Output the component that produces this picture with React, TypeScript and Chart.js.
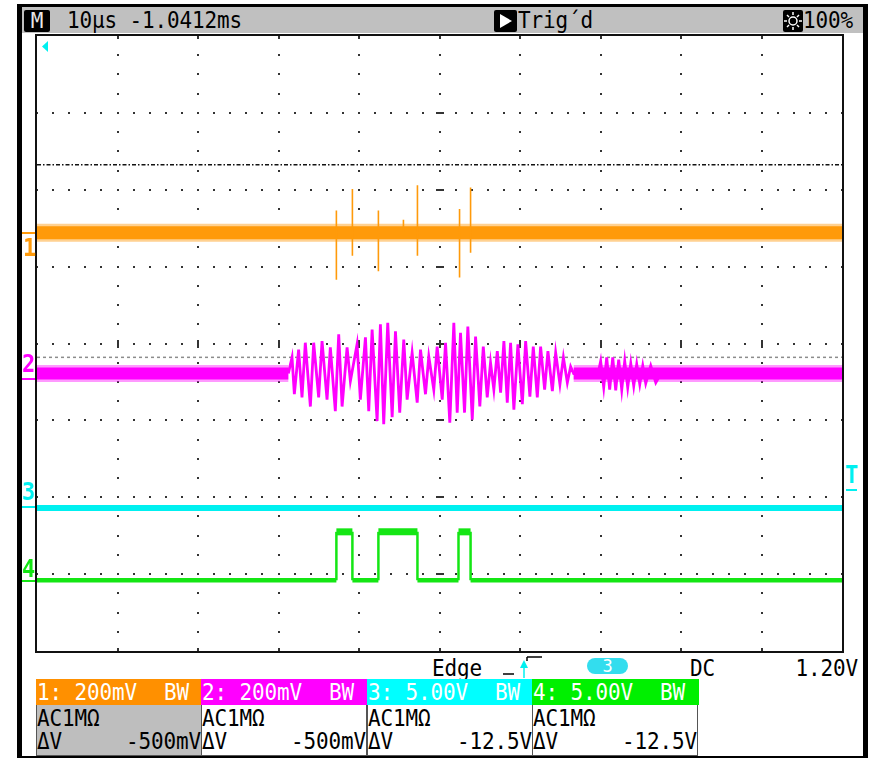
import React, { useEffect, useRef } from "react";
import { Chart, registerables } from "chart.js";

Chart.register(...registerables);

// Horizontal axis: time in µs across 10 divisions (10 µs/div)
// Vertical axis: screen divisions, -4 .. +4
const timeMin = 0;
const timeMax = 100;
const divMin = -4;
const divMax = 4;
const majorTimeTicks = [10, 20, 30, 40, 50, 60, 70, 80, 90];
const majorDivTicks = [-3, -2, -1, 0, 1, 2, 3];
const minorTimeStep = 2;
const minorDivStep = 0.25;

// Channel 1 (orange) : noise band level and glitch spikes
const ch1Level = 1.44;
const ch1SpikeTimes = [37.19, 39.18, 42.41, 45.52, 47.26, 52.49, 53.86];
const ch1SpikeHighs = [1.73, 2.01, 1.73, 1.61, 2.06, 1.75, 2.03];
const ch1SpikeLows = [0.83, 1.14, 0.94, 1.44, 1.14, 0.86, 1.18];

// Channel 2 (magenta) : baseline band and ringing burst
const ch2Level = -0.39;
const ch2BurstStart = 31.22;
const ch2BurstEnd = 66.67;
const ch2BurstTimes = [
  31.22, 31.68, 31.97, 32.5, 32.92, 33.33, 33.96, 34.37, 34.99, 35.41, 36.03, 36.44,
  37.06, 37.48, 37.9, 38.52, 38.93, 39.76, 40.17, 40.8, 41.21, 41.63, 42.25, 42.66,
  43.07, 43.57, 44.12, 44.53, 45.06, 45.56, 45.98, 46.6, 47.23, 47.64, 48.26, 48.67,
  49.29, 49.71, 50.34, 50.75, 51.28, 51.78, 52.2, 52.61, 53.11, 53.52, 54.07, 54.48,
  55.01, 55.44, 55.93, 56.34, 56.75, 57.18, 57.59, 58.0, 58.42, 58.83, 59.24, 59.74,
  60.29, 60.7, 61.23, 61.65, 62.15, 62.56, 63.06, 63.47, 64.02, 64.43, 64.96, 65.39,
  65.88, 66.29, 66.67, 69.7, 70.02, 70.4, 70.77, 71.14, 71.52, 71.89, 72.26, 72.64,
  73.01, 73.38, 73.76, 74.13, 74.5, 74.88, 75.25, 75.62, 76.24, 76.87, 77.5,
];
const ch2BurstValues = [
  -0.39, -0.18, -0.66, -0.08, -0.7, 0.01, -0.82, 0.01, -0.7, 0.03, -0.73, -0.05,
  -0.88, 0.12, -0.82, -0.05, -0.49, -0.01, -0.73, 0.08, -0.88, 0.18, -1.01, 0.25,
  -1.05, 0.27, -0.96, 0.16, -0.9, 0.05, -0.73, -0.12, -0.77, -0.08, -0.66, -0.17,
  -0.6, -0.04, -0.73, 0.01, -1.03, 0.27, -0.9, 0.14, -0.9, 0.22, -0.99, 0.09,
  -0.82, -0.04, -0.7, -0.25, -0.6, -0.1, -0.64, 0.03, -0.77, 0.01, -0.86, -0.01,
  -0.79, 0.03, -0.69, -0.04, -0.7, -0.04, -0.6, -0.1, -0.62, -0.12, -0.53, -0.18,
  -0.51, -0.3, -0.39, -0.39, -0.23, -0.57, -0.18, -0.6, -0.18, -0.61, -0.21, -0.6,
  -0.23, -0.57, -0.26, -0.55, -0.27, -0.53, -0.29, -0.52, -0.29, -0.51, -0.39,
];

// Channel 3 (cyan) : flat level
const ch3Level = -2.14;

// Channel 4 (green) : logic pulses
const ch4Low = -3.08;
const ch4High = -2.45;
const ch4RiseTimes = [37.19, 42.41, 52.36];
const ch4FallTimes = [39.18, 47.26, 53.86];

// Reference lines
const dashDotLevel = 2.325;
const triggerLevel = -0.18;

const ORANGE = "#ff9a0a";
const ORANGE_HAZE = "rgba(255,154,10,0.45)";
const MAGENTA = "#ff00ff";
const MAGENTA_HAZE = "rgba(255,0,255,0.4)";
const CYAN = "#00f0f0";
const GREEN = "#14e614";

const FONT = "'DejaVu Sans Mono', 'Liberation Mono', monospace";

function buildSpikes() {
  const pts: { x: number; y: number }[] = [{ x: timeMin, y: ch1Level }];
  ch1SpikeTimes.forEach((t, i) => {
    pts.push({ x: t, y: ch1Level });
    pts.push({ x: t, y: ch1SpikeHighs[i] });
    pts.push({ x: t, y: ch1SpikeLows[i] });
    pts.push({ x: t, y: ch1Level });
  });
  pts.push({ x: timeMax, y: ch1Level });
  return pts;
}

function buildPulses() {
  const pts: { x: number; y: number }[] = [{ x: timeMin, y: ch4Low }];
  ch4RiseTimes.forEach((r, i) => {
    pts.push({ x: r, y: ch4Low });
    pts.push({ x: r, y: ch4High });
    pts.push({ x: ch4FallTimes[i], y: ch4High });
    pts.push({ x: ch4FallTimes[i], y: ch4Low });
  });
  pts.push({ x: timeMax, y: ch4Low });
  return pts;
}

function ch2BandData() {
  return [
    { x: timeMin, y: ch2Level },
    { x: ch2BurstStart, y: ch2Level },
    { x: (ch2BurstStart + ch2BurstEnd) / 2, y: null },
    { x: ch2BurstEnd, y: ch2Level },
    { x: timeMax, y: ch2Level },
  ];
}

const graticule = {
  id: "graticule",
  beforeDatasetsDraw(chart: any) {
    const { ctx, scales } = chart;
    const xs = scales.x;
    const ys = scales.y;
    ctx.save();
    ctx.fillStyle = "#333";
    const dot = (px: number, py: number, w = 2, h = 2) =>
      ctx.fillRect(Math.round(px - w / 2), Math.round(py - h / 2), w, h);
    majorDivTicks.forEach((v) => {
      for (let t = timeMin; t <= timeMax + 1e-6; t += minorTimeStep) {
        dot(xs.getPixelForValue(t), ys.getPixelForValue(v));
      }
    });
    majorTimeTicks.forEach((t) => {
      for (let v = divMin; v <= divMax + 1e-6; v += minorDivStep) {
        dot(xs.getPixelForValue(t), ys.getPixelForValue(v));
      }
    });
    const cx = xs.getPixelForValue((timeMin + timeMax) / 2);
    const cy = ys.getPixelForValue(0);
    majorTimeTicks.forEach((t) => dot(xs.getPixelForValue(t), cy, 2, 8));
    majorDivTicks.forEach((v) => dot(cx, ys.getPixelForValue(v), 8, 2));
    majorTimeTicks.forEach((t) => {
      const px = xs.getPixelForValue(t);
      dot(px, ys.getPixelForValue(divMax) + 1.5, 2, 3);
      dot(px, ys.getPixelForValue(divMin) - 1.5, 2, 3);
    });
    ctx.restore();
  },
};

const txt = (extra: React.CSSProperties): React.CSSProperties => ({
  position: "absolute",
  fontFamily: FONT,
  fontSize: 21,
  lineHeight: "21px",
  letterSpacing: "-0.15px",
  whiteSpace: "pre",
  color: "#000",
  transform: "scaleY(1.1)",
  transformOrigin: "50% 50%",
  ...extra,
});

function ChannelBox(props: {
  left: number;
  color: string;
  title: string;
  delta: string;
  body: string;
}) {
  const { left, color, title, delta, body } = props;
  const w = 166;
  return (
    <div
      style={{
        position: "absolute",
        left,
        top: 679,
        width: w,
        height: 77,
        boxSizing: "border-box",
        background: body,
        border: "1px solid #555",
        borderTop: "none",
      }}
    >
      <div style={{ position: "absolute", left: -1, top: 0, width: w + 1, height: 26, background: color }} />
      <div style={txt({ left: 0, top: 2.5, color: "#fff" })}>{title}</div>
      <div style={txt({ right: 12, top: 2.5, color: "#fff" })}>BW</div>
      <div style={txt({ left: 0, top: 28.5 })}>AC1MΩ</div>
      <div style={txt({ left: 0, top: 51.5 })}>ΔV</div>
      <div style={txt({ right: 0, top: 51.5 })}>{delta}</div>
    </div>
  );
}

export default function App() {
  const ref = useRef<HTMLCanvasElement>(null);

  useEffect(() => {
    if (!ref.current) return;
    const burst = ch2BurstTimes.map((t, i) => ({ x: t, y: ch2BurstValues[i] }));
    const chart = new Chart(ref.current, {
      type: "line",
      data: {
        datasets: [
          {
            label: "dash-dot",
            data: [
              { x: timeMin, y: dashDotLevel },
              { x: timeMax, y: dashDotLevel },
            ],
            borderColor: "#111",
            borderWidth: 1.5,
            borderDash: [4, 2, 1.5, 2],
            order: 10,
          },
          {
            label: "trigger level",
            data: [
              { x: timeMin, y: triggerLevel },
              { x: timeMax, y: triggerLevel },
            ],
            borderColor: "#8c8c8c",
            borderWidth: 1.5,
            borderDash: [3, 3],
            order: 10,
          },
          {
            label: "CH1 haze",
            data: [
              { x: timeMin, y: ch1Level },
              { x: timeMax, y: ch1Level },
            ],
            borderColor: ORANGE_HAZE,
            borderWidth: 18,
            order: 6,
          },
          {
            label: "CH1 band",
            data: [
              { x: timeMin, y: ch1Level },
              { x: timeMax, y: ch1Level },
            ],
            borderColor: ORANGE,
            borderWidth: 13,
            order: 5,
          },
          {
            label: "CH1 spikes",
            data: buildSpikes(),
            borderColor: ORANGE,
            borderWidth: 1.6,
            order: 4,
          },
          {
            label: "CH2 haze",
            data: ch2BandData(),
            borderColor: MAGENTA_HAZE,
            borderWidth: 17,
            spanGaps: false,
            order: 6,
          },
          {
            label: "CH2 band",
            data: ch2BandData(),
            borderColor: MAGENTA,
            borderWidth: 12,
            spanGaps: false,
            order: 5,
          },
          {
            label: "CH2 burst",
            data: burst,
            borderColor: MAGENTA,
            borderWidth: 2.8,
            order: 4,
          },
          {
            label: "CH3",
            data: [
              { x: timeMin, y: ch3Level },
              { x: timeMax, y: ch3Level },
            ],
            borderColor: CYAN,
            borderWidth: 6,
            order: 5,
          },
          {
            label: "CH4",
            data: buildPulses(),
            borderColor: GREEN,
            borderWidth: 4,
            order: 5,
            segment: {
              borderWidth: (c: any) =>
                c.p0.parsed.x === c.p1.parsed.x ? 2.5 : c.p0.parsed.y > (ch4High + ch4Low) / 2 ? 7 : 4.5,
            },
          },
        ] as any,
      },
      options: {
        responsive: false,
        animation: false,
        layout: { padding: 0 },
        elements: {
          point: { radius: 0, hoverRadius: 0 },
          line: { tension: 0, fill: false, borderCapStyle: "butt", borderJoinStyle: "miter" },
        },
        plugins: {
          legend: { display: false },
          tooltip: { enabled: false },
        },
        events: [],
        scales: {
          x: { type: "linear", min: timeMin, max: timeMax, display: false },
          y: { type: "linear", min: divMin, max: divMax, display: false },
        },
      },
      plugins: [graticule],
    });
    return () => chart.destroy();
  }, []);

  return (
    <div style={{ position: "absolute", left: 0, top: 0, width: 877, height: 758, background: "#fff", overflow: "hidden" }}>
      {/* outer frame */}
      <div
        style={{
          position: "absolute",
          left: 17,
          top: 4,
          width: 851,
          height: 754,
          boxSizing: "border-box",
          borderLeft: "5px solid #000",
          borderRight: "5px solid #000",
          borderTop: "3px solid #000",
          borderBottom: "2px solid #000",
        }}
      />
      {/* header bar */}
      <div style={{ position: "absolute", left: 22, top: 7, width: 841, height: 26, background: "#c0c0c0" }} />
      <div
        style={txt({
          left: 24,
          top: 10,
          width: 26,
          height: 22,
          background: "#000",
          color: "#e8e8e8",
          textAlign: "center",
          borderRadius: 2,
          lineHeight: "22px",
          transform: "none",
        })}
      >
        M
      </div>
      <div style={txt({ left: 67, top: 10 })}>10µs -1.0412ms</div>
      <svg style={{ position: "absolute", left: 494, top: 10 }} width={23} height={22}>
        <rect x={0} y={0} width={23} height={22} rx={2} fill="#000" />
        <polygon points="6,4 18,11 6,18" fill="#fff" />
      </svg>
      <div style={txt({ left: 518, top: 10 })}>Trig´d</div>
      <svg style={{ position: "absolute", left: 783, top: 10 }} width={20} height={22}>
        <rect x={0} y={0} width={20} height={22} rx={2} fill="#000" />
        <circle cx={10} cy={11} r={4} fill="none" stroke="#fff" strokeWidth={1.5} />
        <g stroke="#fff" strokeWidth={1.5}>
          <line x1={10} y1={2} x2={10} y2={5} />
          <line x1={10} y1={17} x2={10} y2={20} />
          <line x1={1} y1={11} x2={4} y2={11} />
          <line x1={16} y1={11} x2={19} y2={11} />
          <line x1={4} y1={5} x2={6} y2={7} />
          <line x1={14} y1={15} x2={16} y2={17} />
          <line x1={16} y1={5} x2={14} y2={7} />
          <line x1={4} y1={17} x2={6} y2={15} />
        </g>
      </svg>
      <div style={txt({ left: 803, top: 10 })}>100%</div>

      {/* plot area */}
      <div
        style={{
          position: "absolute",
          left: 35,
          top: 34,
          width: 809,
          height: 619,
          boxSizing: "border-box",
          border: "2px solid #111",
        }}
      />
      <canvas
        ref={ref}
        width={805}
        height={615}
        style={{ position: "absolute", left: 37, top: 36, width: 805, height: 615, display: "block" }}
      />
      <svg style={{ position: "absolute", left: 41, top: 41 }} width={8} height={12}>
        <polygon points="7,0 7,11 1,5.5" fill={CYAN} />
      </svg>

      {/* channel ground markers */}
      <div style={{ position: "absolute", left: 22, top: 232, width: 13, height: 2, background: ORANGE }} />
      <div style={txt({ left: 23, top: 237, color: ORANGE, fontWeight: "bold", fontSize: 22 })}>1</div>
      <div style={txt({ left: 22, top: 353, color: MAGENTA, fontWeight: "bold", fontSize: 22 })}>2</div>
      <div style={{ position: "absolute", left: 22, top: 378, width: 13, height: 2, background: MAGENTA }} />
      <div style={txt({ left: 22, top: 481, color: CYAN, fontWeight: "bold", fontSize: 22 })}>3</div>
      <div style={{ position: "absolute", left: 22, top: 506, width: 13, height: 2, background: CYAN }} />
      <div style={txt({ left: 22, top: 558, color: GREEN, fontWeight: "bold", fontSize: 22 })}>4</div>
      <div style={{ position: "absolute", left: 22, top: 580, width: 13, height: 2, background: GREEN }} />
      <div style={txt({ left: 845, top: 464, color: CYAN, fontWeight: "bold", fontSize: 22 })}>T</div>
      <div style={{ position: "absolute", left: 846, top: 489, width: 11, height: 2, background: CYAN }} />

      {/* trigger info row */}
      <div style={txt({ left: 432, top: 658 })}>Edge</div>
      <svg style={{ position: "absolute", left: 500, top: 652 }} width={45} height={28}>
        <line x1={3} y1={22} x2={14} y2={22} stroke="#000" strokeWidth={1.5} />
        <line x1={24} y1={10} x2={24} y2={26} stroke={CYAN} strokeWidth={1.5} />
        <polygon points="24,8 20,16 28,16" fill={CYAN} />
        <line x1={27} y1={5} x2={42} y2={5} stroke="#000" strokeWidth={1.5} />
        <line x1={27} y1={5} x2={27} y2={9} stroke="#000" strokeWidth={1.5} />
      </svg>
      <div
        style={txt({
          left: 587,
          top: 658,
          width: 41,
          height: 16,
          borderRadius: 8,
          background: "#33ddee",
          color: "#fff",
          textAlign: "center",
          fontSize: 17,
          lineHeight: "16px",
          transform: "none",
        })}
      >
        3
      </div>
      <div style={txt({ left: 690, top: 658 })}>DC</div>
      <div style={txt({ right: 877 - 858, top: 658 })}>1.20V</div>

      {/* channel boxes */}
      <ChannelBox left={36} color="#ff9000" title="1: 200mV" delta="-500mV" body="#bebebe" />
      <ChannelBox left={201} color="#ff00ff" title="2: 200mV" delta="-500mV" body="#fff" />
      <ChannelBox left={367} color="#00ffff" title="3: 5.00V" delta="-12.5V" body="#fff" />
      <ChannelBox left={532} color="#00f000" title="4: 5.00V" delta="-12.5V" body="#fff" />
    </div>
  );
}
